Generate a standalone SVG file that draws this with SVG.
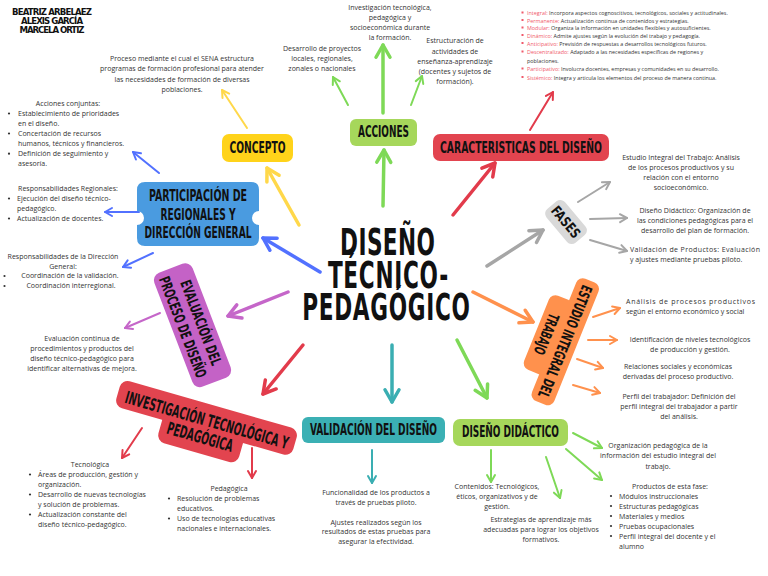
<svg xmlns="http://www.w3.org/2000/svg" width="768" height="576" viewBox="0 0 768 576">
<defs>
<style>
.h{font-family:"Liberation Sans Narrow","DejaVu Sans Condensed","Liberation Sans",sans-serif;font-weight:bold;fill:#111;text-anchor:middle}
.b{font-family:"Open Sans","Liberation Sans",sans-serif;font-size:7px;fill:#333}
.m{text-anchor:middle}
.s{font-family:"Open Sans","Liberation Sans",sans-serif;font-size:5.4px;fill:#333}
.lab{fill:#f0596b}
.c{fill:none;stroke-linecap:round;stroke-linejoin:round}
.t{stroke-width:3.5}
.n{stroke-width:2}
.dot{fill:#333}
</style>
<marker id="mY" viewBox="-5 -3 6 6" refX="0" refY="0" markerWidth="6" markerHeight="6" orient="auto" overflow="visible"><path d="M-3.5,-2 L0,0 L-3.5,2" fill="none" stroke="#ffd84a" stroke-width="1" stroke-linecap="round" stroke-linejoin="round"/></marker>
<marker id="mG" viewBox="-5 -3 6 6" refX="0" refY="0" markerWidth="6" markerHeight="6" orient="auto" overflow="visible"><path d="M-3.5,-2 L0,0 L-3.5,2" fill="none" stroke="#7ed957" stroke-width="1" stroke-linecap="round" stroke-linejoin="round"/></marker>
<marker id="mR" viewBox="-5 -3 6 6" refX="0" refY="0" markerWidth="6" markerHeight="6" orient="auto" overflow="visible"><path d="M-3.5,-2 L0,0 L-3.5,2" fill="none" stroke="#e23b4b" stroke-width="1" stroke-linecap="round" stroke-linejoin="round"/></marker>
<marker id="mB" viewBox="-5 -3 6 6" refX="0" refY="0" markerWidth="6" markerHeight="6" orient="auto" overflow="visible"><path d="M-3.5,-2 L0,0 L-3.5,2" fill="none" stroke="#5271ff" stroke-width="1" stroke-linecap="round" stroke-linejoin="round"/></marker>
<marker id="mP" viewBox="-5 -3 6 6" refX="0" refY="0" markerWidth="6" markerHeight="6" orient="auto" overflow="visible"><path d="M-3.5,-2 L0,0 L-3.5,2" fill="none" stroke="#c566c9" stroke-width="1" stroke-linecap="round" stroke-linejoin="round"/></marker>
<marker id="mO" viewBox="-5 -3 6 6" refX="0" refY="0" markerWidth="6" markerHeight="6" orient="auto" overflow="visible"><path d="M-3.5,-2 L0,0 L-3.5,2" fill="none" stroke="#ff914d" stroke-width="1" stroke-linecap="round" stroke-linejoin="round"/></marker>
<marker id="mT" viewBox="-5 -3 6 6" refX="0" refY="0" markerWidth="6" markerHeight="6" orient="auto" overflow="visible"><path d="M-3.5,-2 L0,0 L-3.5,2" fill="none" stroke="#3aaeb2" stroke-width="1" stroke-linecap="round" stroke-linejoin="round"/></marker>
<marker id="mK" viewBox="-5 -3 6 6" refX="0" refY="0" markerWidth="6" markerHeight="6" orient="auto" overflow="visible"><path d="M-3.5,-2 L0,0 L-3.5,2" fill="none" stroke="#a6a6a6" stroke-width="1" stroke-linecap="round" stroke-linejoin="round"/></marker>
</defs>
<rect width="768" height="576" fill="#fff"/>

<g id="connectors">
<path class="c t" stroke="#ffd84a" marker-end="url(#mY)" d="M299,225 L267,168"/>
<path class="c n" stroke="#ffd84a" stroke-width="2.5" marker-end="url(#mY)" d="M247,128 L222,90"/>
<path class="c t" stroke="#7ed957" marker-end="url(#mG)" d="M383,206 L384,150"/>
<path class="c t" stroke="#7ed957" marker-end="url(#mG)" d="M383,113 L383,45"/>
<path class="c n" stroke="#7ed957" stroke-width="2.5" marker-end="url(#mG)" d="M348,105 L333,77"/>
<path class="c n" stroke="#7ed957" stroke-width="2.5" marker-end="url(#mG)" d="M411,105 L422,76"/>
<path class="c t" stroke="#e23b4b" marker-end="url(#mR)" d="M453,215 L495,163"/>
<path class="c n" stroke="#e23b4b" stroke-width="2.5" marker-end="url(#mR)" d="M530,130 L553,92"/>
<path class="c t" stroke="#a6a6a6" marker-end="url(#mK)" d="M487,266 L543,230"/>
<path class="c n" stroke="#a6a6a6" marker-end="url(#mK)" d="M578,202 L610,182"/>
<path class="c n" stroke="#a6a6a6" marker-end="url(#mK)" d="M590,219 L627,218"/>
<path class="c n" stroke="#a6a6a6" marker-end="url(#mK)" d="M590,240 L627,251"/>
<path class="c t" stroke="#ff914d" marker-end="url(#mO)" d="M473,292 L533,322"/>
<path class="c n" stroke="#ff914d" marker-end="url(#mO)" d="M593,317 L620,308"/>
<path class="c n" stroke="#ff914d" marker-end="url(#mO)" d="M588,340 L617,340"/>
<path class="c n" stroke="#ff914d" marker-end="url(#mO)" d="M577,359 L603,368"/>
<path class="c n" stroke="#ff914d" marker-end="url(#mO)" d="M573,385 L600,393"/>
<path class="c t" stroke="#7ed957" marker-end="url(#mG)" d="M457,340 L487,398"/>
<path class="c n" stroke="#7ed957" marker-end="url(#mG)" d="M573,433 L602,448"/>
<path class="c n" stroke="#7ed957" marker-end="url(#mG)" d="M566,449 L602,480"/>
<path class="c n" stroke="#7ed957" marker-end="url(#mG)" d="M546,457 L560,498"/>
<path class="c n" stroke="#7ed957" marker-end="url(#mG)" d="M491,450 L491,482"/>
<path class="c t" stroke="#3aaeb2" marker-end="url(#mT)" d="M392,345 L392,402"/>
<path class="c n" stroke="#3aaeb2" marker-end="url(#mT)" d="M372,450 L372,483"/>
<path class="c t" stroke="#e23b4b" marker-end="url(#mR)" d="M303,345 L263,394"/>
<path class="c n" stroke="#e23b4b" marker-end="url(#mR)" d="M142,428 L122,458"/>
<path class="c n" stroke="#e23b4b" marker-end="url(#mR)" d="M252,448 L252,478"/>
<path class="c t" stroke="#c566c9" marker-end="url(#mP)" d="M288,292 L228,316"/>
<path class="c n" stroke="#c566c9" marker-end="url(#mP)" d="M160,313 L125,328"/>
<path class="c t" stroke="#5271ff" marker-end="url(#mB)" d="M320,272 L263,238"/>
<path class="c n" stroke="#5271ff" marker-end="url(#mB)" d="M159,173 L133,152"/>
<path class="c n" stroke="#5271ff" marker-end="url(#mB)" d="M139,212 L105,212"/>
<path class="c n" stroke="#5271ff" marker-end="url(#mB)" d="M153,253 L123,267"/>
</g>

<g id="authors">
<text class="h" x="52" y="15" font-size="9.5" textLength="80" lengthAdjust="spacing">BEATRIZ ARBELAEZ</text>
<text class="h" x="52" y="24" font-size="9.5" textLength="62" lengthAdjust="spacing">ALEXIS GARCÍA</text>
<text class="h" x="52" y="33" font-size="9.5" textLength="65" lengthAdjust="spacing">MARCELA ORTIZ</text>
</g>

<g id="title">
<text class="h" transform="translate(387.5,255) scale(0.65,1)" x="0" y="0" font-size="37" font-weight="900" textLength="146" lengthAdjust="spacing">DISEÑO</text>
<text class="h" transform="translate(388,288) scale(0.65,1)" x="0" y="0" font-size="37" font-weight="900" textLength="185" lengthAdjust="spacing">TÉCNICO-</text>
<text class="h" transform="translate(386,320) scale(0.65,1)" x="0" y="0" font-size="37" font-weight="900" textLength="258" lengthAdjust="spacing">PEDAGÓGICO</text>
</g>

<g id="concepto">
<rect x="222" y="134" width="71" height="28" rx="7" fill="#ffd31a"/>
<text class="h" x="257.5" y="153" font-size="16" textLength="56" lengthAdjust="spacingAndGlyphs">CONCEPTO</text>
<text class="b m"><tspan x="182" y="60.5">Proceso mediante el cual el SENA estructura</tspan><tspan x="182" y="71">programas de formación profesional para atender</tspan><tspan x="182" y="81.5">las necesidades de formación de diversas</tspan><tspan x="182" y="92">poblaciones.</tspan></text>
</g>

<g id="acciones">
<rect x="350" y="119" width="67" height="27" rx="6" fill="#a6d75b"/>
<text class="h" x="383.5" y="137" font-size="16" textLength="51" lengthAdjust="spacingAndGlyphs">ACCIONES</text>
<text class="b m"><tspan x="390" y="9.5">Investigación tecnológica,</tspan><tspan x="390" y="19.5">pedagógica y</tspan><tspan x="390" y="29.5">socioeconómica durante</tspan><tspan x="390" y="39.5">la formación.</tspan></text>
<text class="b m"><tspan x="322" y="51">Desarrollo de proyectos</tspan><tspan x="322" y="61">locales, regionales,</tspan><tspan x="322" y="71">zonales o nacionales</tspan></text>
<text class="b m"><tspan x="455" y="43">Estructuración de</tspan><tspan x="455" y="53.5">actividades de</tspan><tspan x="455" y="63.5">enseñanza-aprendizaje</tspan><tspan x="455" y="74">(docentes y sujetos de</tspan><tspan x="455" y="84">formación).</tspan></text>
</g>

<g id="caracteristicas">
<rect x="433" y="134" width="176" height="27" rx="7" fill="#e2444f"/>
<text class="h" x="521" y="153" font-size="16" textLength="162" lengthAdjust="spacingAndGlyphs">CARACTERISTICAS DEL DISEÑO</text>
<g fill="#f0596b"><rect x="521.5" y="11.5" width="2" height="2"/><rect x="521.5" y="19" width="2" height="2"/><rect x="521.5" y="26.5" width="2" height="2"/><rect x="521.5" y="34" width="2" height="2"/><rect x="521.5" y="42" width="2" height="2"/><rect x="521.5" y="50.5" width="2" height="2"/><rect x="521.5" y="67.5" width="2" height="2"/><rect x="521.5" y="76" width="2" height="2"/></g>
<text class="s" x="527" y="15"><tspan class="lab">Integral:</tspan> Incorpora aspectos cognoscitivos, tecnológicos, sociales y actitudinales.</text>
<text class="s" x="527" y="22.5"><tspan class="lab">Permanente:</tspan> Actualización continua de contenidos y estrategias.</text>
<text class="s" x="527" y="30"><tspan class="lab">Modular:</tspan> Organiza la información en unidades flexibles y autosuficientes.</text>
<text class="s" x="527" y="37.5"><tspan class="lab">Dinámico:</tspan> Admite ajustes según la evolución del trabajo y pedagogía.</text>
<text class="s" x="527" y="45.5"><tspan class="lab">Anticipativo:</tspan> Previsión de respuestas a desarrollos tecnológicos futuros.</text>
<text class="s" x="527" y="54"><tspan class="lab">Descentralizado:</tspan> Adaptado a las necesidades específicas de regiones y</text>
<text class="s" x="527" y="62.5">poblaciones.</text>
<text class="s" x="527" y="71"><tspan class="lab">Participativo:</tspan> Involucra docentes, empresas y comunidades en su desarrollo.</text>
<text class="s" x="527" y="79.5"><tspan class="lab">Sistémico:</tspan> Integra y articula los elementos del proceso de manera continua.</text>
</g>

<g id="fases">
<g transform="translate(566,222) rotate(50)">
<rect x="-22" y="-12" width="44" height="24" rx="6" fill="#d9d9d9"/>
<text class="h" x="0" y="5" font-size="14" textLength="37" lengthAdjust="spacingAndGlyphs">FASES</text>
</g>
<text class="b m"><tspan x="681" y="160">Estudio Integral del Trabajo: Análisis</tspan><tspan x="681" y="170">de los procesos productivos y su</tspan><tspan x="681" y="180">relación con el entorno</tspan><tspan x="681" y="189.5">socioeconómico.</tspan></text>
<text class="b m"><tspan x="695" y="213">Diseño Didáctico: Organización de</tspan><tspan x="695" y="223">las condiciones pedagógicas para el</tspan><tspan x="695" y="232.5">desarrollo del plan de formación.</tspan></text>
<text class="b" x="630" y="251.8" textLength="130" lengthAdjust="spacing">Validación de Productos: Evaluación</text>
<text class="b" x="630" y="261.5">y ajustes mediante pruebas piloto.</text>
</g>

<g id="estudio">
<g transform="translate(556,338) rotate(112)" fill="#ff914d">
<rect x="-66" y="-22" width="132" height="24" rx="7"/>
<rect x="-40" y="-4" width="80" height="25" rx="7"/>
<text class="h" x="0" y="-4.5" font-size="15" textLength="120" lengthAdjust="spacingAndGlyphs">ESTUDIO INTEGRAL DEL</text>
<text class="h" x="0" y="15.5" font-size="15" textLength="43" lengthAdjust="spacingAndGlyphs">TRABAJO</text>
</g>
<text class="b" x="626" y="304" textLength="129" lengthAdjust="spacing">Análisis de procesos productivos</text>
<text class="b" x="626" y="314">según el entorno económico y social</text>
<text class="b m"><tspan x="690" y="341.5">Identificación de niveles tecnológicos</tspan><tspan x="690" y="351.5">de producción y gestión.</tspan></text>
<text class="b m"><tspan x="678" y="369">Relaciones sociales y económicas</tspan><tspan x="678" y="379">derivadas del proceso productivo.</tspan></text>
<text class="b m"><tspan x="679" y="399">Perfil del trabajador: Definición del</tspan><tspan x="679" y="409">perfil integral del trabajador a partir</tspan><tspan x="679" y="419">del análisis.</tspan></text>
</g>

<g id="didactico">
<rect x="453" y="419" width="115" height="27" rx="7" fill="#a6d75b"/>
<text class="h" x="510.5" y="437" font-size="16" textLength="97" lengthAdjust="spacingAndGlyphs">DISEÑO DIDÁCTICO</text>
<text class="b m"><tspan x="658" y="448">Organización pedagógica de la</tspan><tspan x="658" y="458">información del estudio integral del</tspan><tspan x="658" y="468.5">trabajo.</tspan></text>
<text class="b m"><tspan x="497" y="488.5">Contenidos: Tecnológicos,</tspan><tspan x="497" y="498.5">éticos, organizativos y de</tspan><tspan x="497" y="509">gestión.</tspan></text>
<text class="b m"><tspan x="541" y="521.8">Estrategias de aprendizaje más</tspan><tspan x="541" y="531.8">adecuadas para lograr los objetivos</tspan><tspan x="541" y="541.8">formativos.</tspan></text>
<text class="b m" x="670" y="488.5">Productos de esta fase:</text>
<g class="dot"><circle cx="611" cy="496" r="1.1"/><circle cx="611" cy="506" r="1.1"/><circle cx="611" cy="516" r="1.1"/><circle cx="611" cy="526" r="1.1"/><circle cx="611" cy="536" r="1.1"/></g>
<text class="b"><tspan x="619" y="498.5">Módulos instruccionales</tspan><tspan x="619" y="508.5">Estructuras pedagógicas</tspan><tspan x="619" y="518.5">Materiales y medios</tspan><tspan x="619" y="528.5">Pruebas ocupacionales</tspan><tspan x="619" y="538.5">Perfil integral del docente y el</tspan><tspan x="619" y="548.5">alumno</tspan></text>
</g>

<g id="validacion">
<rect x="302" y="417" width="143" height="26" rx="6" fill="#3bb0b4"/>
<text class="h" x="373.5" y="435" font-size="16" textLength="127" lengthAdjust="spacingAndGlyphs">VALIDACIÓN DEL DISEÑO</text>
<text class="b m"><tspan x="376" y="494.8">Funcionalidad de los productos a</tspan><tspan x="376" y="504.8">través de pruebas piloto.</tspan><tspan x="376" y="524.8">Ajustes realizados según los</tspan><tspan x="376" y="534.2">resultados de estas pruebas para</tspan><tspan x="376" y="544.2">asegurar la efectividad.</tspan></text>
</g>

<g id="investigacion">
<g transform="translate(203.5,428.5) rotate(16)" fill="#e2444f">
<rect x="-92" y="-25" width="184" height="28" rx="8"/>
<rect x="-42" y="-6" width="84" height="31" rx="8"/>
<text class="h" x="1" y="-3" font-size="17" textLength="169" lengthAdjust="spacingAndGlyphs">INVESTIGACIÓN TECNOLÓGICA Y</text>
<text class="h" x="-1" y="15" font-size="17" textLength="68" lengthAdjust="spacingAndGlyphs">PEDAGÓGICA</text>
</g>
<text class="b m" x="90" y="466.8">Tecnológica</text>
<g class="dot"><circle cx="30" cy="474.5" r="1.1"/><circle cx="30" cy="494.5" r="1.1"/><circle cx="30" cy="514.5" r="1.1"/></g>
<text class="b"><tspan x="38" y="476.8">Áreas de producción, gestión y</tspan><tspan x="38" y="486.5">organización.</tspan><tspan x="38" y="496.8">Desarrollo de nuevas tecnologías</tspan><tspan x="38" y="506.8">y solución de problemas.</tspan><tspan x="38" y="516.8">Actualización constante del</tspan><tspan x="38" y="526.5">diseño técnico-pedagógico.</tspan></text>
<text class="b m" x="229" y="490.8">Pedagógica</text>
<g class="dot"><circle cx="169" cy="498.5" r="1.1"/><circle cx="169" cy="518.5" r="1.1"/></g>
<text class="b"><tspan x="177" y="500.8">Resolución de problemas</tspan><tspan x="177" y="510.8">educativos.</tspan><tspan x="177" y="520.8">Uso de tecnologías educativas</tspan><tspan x="177" y="530.8">nacionales e internacionales.</tspan></text>
</g>

<g id="evaluacion">
<g transform="translate(193,325) rotate(69)">
<rect x="-61" y="-20" width="122" height="41" rx="8" fill="#c462c6"/>
<text class="h" x="0.7" y="-3" font-size="15" textLength="90" lengthAdjust="spacingAndGlyphs">EVALUACIÓN DEL</text>
<text class="h" x="-1.7" y="15.5" font-size="15" textLength="107" lengthAdjust="spacingAndGlyphs">PROCESO DE DISEÑO</text>
</g>
<text class="b m"><tspan x="82" y="340.5">Evaluación continua de</tspan><tspan x="82" y="350.5">procedimientos y productos del</tspan><tspan x="82" y="360.5">diseño técnico-pedagógico para</tspan><tspan x="82" y="371">identificar alternativas de mejora.</tspan></text>
</g>

<g id="participacion">
<path d="M145,182 H251 Q259,182 259,190 V211 A7,7 0 0 0 259,225 V238 Q259,246 251,246 H145 Q137,246 137,238 V225 A7,7 0 0 0 137,211 V190 Q137,182 145,182 Z" fill="#4a9be0"/>
<text class="h" x="198" y="201" font-size="16" textLength="98" lengthAdjust="spacingAndGlyphs">PARTICIPACIÓN DE</text>
<text class="h" x="198" y="219.5" font-size="16" textLength="75" lengthAdjust="spacingAndGlyphs">REGIONALES Y</text>
<text class="h" x="198" y="237.5" font-size="16" textLength="107" lengthAdjust="spacingAndGlyphs">DIRECCIÓN GENERAL</text>
<text class="b m" x="68" y="105.8">Acciones conjuntas:</text>
<g class="dot"><circle cx="9" cy="113.5" r="1.1"/><circle cx="9" cy="133.5" r="1.1"/><circle cx="9" cy="153.7" r="1.1"/></g>
<text class="b"><tspan x="18" y="115.8">Establecimiento de prioridades</tspan><tspan x="18" y="125.8">en el diseño.</tspan><tspan x="18" y="135.8">Concertación de recursos</tspan><tspan x="18" y="145.8">humanos, técnicos y financieros.</tspan><tspan x="18" y="156.2">Definición de seguimiento y</tspan><tspan x="18" y="165.8">asesoría.</tspan></text>
<text class="b m" x="68" y="190.8">Responsabilidades Regionales:</text>
<g class="dot"><circle cx="9" cy="198.5" r="1.1"/><circle cx="9" cy="218.5" r="1.1"/></g>
<text class="b"><tspan x="17" y="200.8">Ejecución del diseño técnico-</tspan><tspan x="17" y="210.8">pedagógico.</tspan><tspan x="17" y="220.8">Actualización de docentes.</tspan></text>
<text class="b m"><tspan x="63" y="259.2">Responsabilidades de la Dirección</tspan><tspan x="63" y="269.2">General:</tspan></text>
<g class="dot"><circle cx="4.5" cy="276" r="1.1"/><circle cx="4.5" cy="286" r="1.1"/></g>
<text class="b m"><tspan x="70" y="278.2">Coordinación de la validación.</tspan><tspan x="71" y="288.2">Coordinación interregional.</tspan></text>
</g>
</svg>
